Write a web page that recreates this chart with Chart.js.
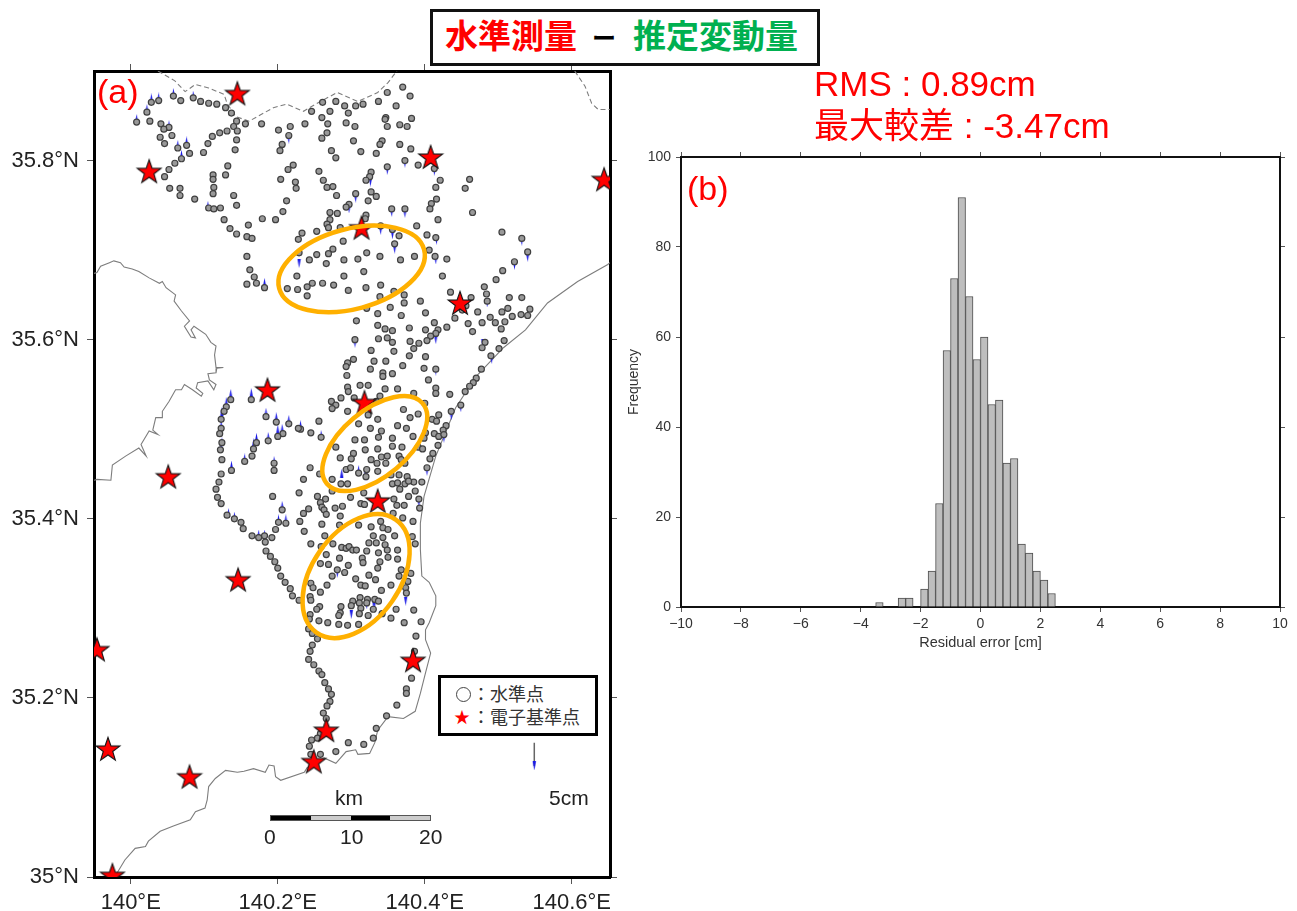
<!DOCTYPE html>
<html lang="ja">
<head>
<meta charset="utf-8">
<title>水準測量 - 推定変動量</title>
<script src="https://cdn.jsdelivr.net/npm/chart.js@4/dist/chart.umd.min.js"></script>
<style>
    html, body { margin: 0; padding: 0; background: #fff; }
    body { position: relative; width: 1297px; height: 911px; overflow: hidden; font-family: 'Liberation Sans', 'Noto Sans CJK JP', sans-serif; }
    canvas { position: absolute; display: block; }
    #mapChart { left: 0; top: 0; }
    #histChart { left: 620px; top: 130px; }
    .txt { position: absolute; line-height: 1; white-space: nowrap; color: #222; }
    .red { color: #ff0000; }
    .green { color: #00b050; }
    #titleBox { position: absolute; left: 430px; top: 9px; width: 384px; height: 51px; border: 3px solid #111; background: #fff; }
    #titleBox span { position: absolute; top: 7px; font-size: 33px; line-height: 1.1; font-weight: 700; white-space: nowrap; }
    #legendBox { position: absolute; left: 438px; top: 675px; width: 154px; height: 55px; border: 3px solid #000; background: #fff; }
    #legendBox span { position: absolute; font-size: 18px; line-height: 1; color: #333; white-space: nowrap; }
    #legendCircle { position: absolute; left: 15px; top: 9px; width: 13px; height: 13px; border: 1.5px solid #444; border-radius: 50%; }
    #scaleBar { position: absolute; left: 270px; top: 815px; width: 161px; height: 6px; border: 1px solid #555; display: flex; background: #ccc; box-sizing: border-box; }
    #scaleBar div { width: 25%; }
    #scaleBar .dark { background: #000; }
</style>
</head>
<body>
<canvas id="mapChart" width="625" height="911"></canvas>
<canvas id="histChart" width="677" height="530"></canvas>

<div id="titleBox">
    <span class="red" style="left:12px">水準測量</span>
    <span style="left:159px;top:14px;font-size:24px;color:#000">ー</span>
    <span class="green" style="left:200px">推定変動量</span>
</div>
<div class="txt red" style="left:814px;top:66px;font-size:35px">RMS : 0.89cm</div>
<div class="txt red" style="left:814px;top:108px;font-size:35px">最大較差 : -3.47cm</div>
<div class="txt red" style="left:97px;top:74px;font-size:34px">(a)</div>
<div class="txt red" style="left:687px;top:171px;font-size:34px">(b)</div>

<div id="legendBox">
    <div id="legendCircle"></div>
    <span style="left:31px;top:8px">：水準点</span>
    <span style="left:13px;top:32px;font-size:16px;color:#ff0000">★</span>
    <span style="left:31px;top:31px">：電子基準点</span>
</div>

<div class="txt" style="left:335px;top:787px;font-size:21px">km</div>
<div id="scaleBar"><div class="dark"></div><div></div><div class="dark"></div><div></div></div>
<div class="txt" style="left:264px;top:826px;font-size:21px">0</div>
<div class="txt" style="left:340px;top:826px;font-size:21px">10</div>
<div class="txt" style="left:419px;top:826px;font-size:21px">20</div>
<div class="txt" style="left:549px;top:787px;font-size:21px">5cm</div>

<script>
// histogram of residuals, 0.25 cm bins, value = bin centre
const binCenters = [-3.375, -2.625, -2.375, -1.875, -1.625, -1.375, -1.125, -0.875, -0.625, -0.375, -0.125, 0.125, 0.375, 0.625, 0.875, 1.125, 1.375, 1.625, 1.875, 2.125, 2.375];
const binCounts = [1, 2, 2, 4, 8, 23, 57, 73, 91, 69, 55, 60, 45, 46, 32, 33, 14, 12, 8, 6, 3];

// GNSS stations [lon, lat]
const gnssStations = [
    [140.145, 35.875], [140.025, 35.788], [140.408, 35.804], [140.644, 35.779], [140.314, 35.725], [140.448, 35.641],
    [140.186, 35.544], [140.318, 35.530], [140.051, 35.447], [140.336, 35.420], [140.146, 35.332], [139.954, 35.254],
    [140.384, 35.242], [140.266, 35.164], [139.969, 35.143], [140.249, 35.129], [140.080, 35.112], [139.975, 35.002]
];

// leveling benchmarks [lon, lat]
const levelingPoints = [
    [140.370,35.882],[140.349,35.876],[140.380,35.872],[140.028,35.865],[140.038,35.867],[140.058,35.872],[140.068,35.867],[140.085,35.870],[140.095,35.866],[140.106,35.864],
    [140.117,35.863],[140.129,35.859],[140.137,35.853],[140.261,35.865],[140.279,35.866],[140.291,35.861],[140.306,35.861],[140.316,35.863],[140.337,35.866],[140.361,35.861],
    [140.246,35.855],[140.271,35.855],[140.296,35.853],[140.022,35.854],[140.008,35.843],[140.026,35.844],[140.144,35.844],[140.156,35.841],[140.178,35.841],[140.237,35.841],
    [140.260,35.848],[140.268,35.841],[140.293,35.842],[140.305,35.838],[140.347,35.848],[140.346,35.846],[140.349,35.838],[140.366,35.840],[140.376,35.838],[140.382,35.847],
    [140.041,35.841],[140.052,35.837],[140.045,35.835],[140.056,35.828],[140.040,35.826],[140.046,35.819],[140.064,35.814],[140.076,35.817],[140.080,35.808],[140.069,35.802],
    [140.060,35.797],[140.052,35.790],[140.046,35.782],[140.140,35.838],[140.145,35.833],[140.131,35.833],[140.121,35.831],[140.111,35.827],[140.105,35.819],[140.099,35.809],
    [140.144,35.823],[140.142,35.812],[140.201,35.834],[140.217,35.838],[140.215,35.828],[140.206,35.818],[140.203,35.811],[140.267,35.831],[140.260,35.825],[140.303,35.822],
    [140.342,35.822],[140.339,35.818],[140.366,35.818],[140.381,35.813],[140.273,35.811],[140.279,35.803],[140.313,35.810],[140.334,35.808],[140.373,35.800],[140.391,35.795],
    [140.413,35.791],[140.349,35.793],[140.221,35.795],[140.214,35.790],[140.132,35.794],[140.129,35.784],[140.112,35.784],[140.112,35.779],[140.113,35.770],[140.112,35.763],
    [140.053,35.769],[140.067,35.769],[140.067,35.761],[140.087,35.757],[140.204,35.779],[140.224,35.776],[140.225,35.769],[140.256,35.788],[140.262,35.778],[140.267,35.770],
    [140.275,35.771],[140.280,35.761],[140.327,35.787],[140.325,35.782],[140.320,35.778],[140.421,35.778],[140.461,35.779],[140.455,35.769],[140.415,35.770],[140.140,35.761],
    [140.144,35.750],[140.106,35.747],[140.113,35.746],[140.122,35.747],[140.127,35.734],[140.135,35.724],[140.144,35.718],[140.158,35.715],[140.165,35.713],[140.160,35.728],
    [140.212,35.755],[140.207,35.743],[140.179,35.735],[140.197,35.734],[140.306,35.763],[140.327,35.765],[140.334,35.760],[140.323,35.755],[140.297,35.751],[140.293,35.748],
    [140.416,35.757],[140.409,35.752],[140.407,35.746],[140.355,35.746],[140.373,35.746],[140.465,35.742],[140.271,35.742],[140.281,35.741],[140.320,35.739],[140.319,35.735],
    [140.271,35.734],[140.267,35.729],[140.269,35.725],[140.285,35.725],[140.418,35.734],[140.389,35.727],[140.253,35.721],[140.233,35.719],[140.228,35.712],[140.340,35.727],
    [140.356,35.723],[140.365,35.716],[140.403,35.717],[140.415,35.714],[140.505,35.720],[140.532,35.713],[140.540,35.698],[140.289,35.710],[140.359,35.707],[140.275,35.701],
    [140.269,35.696],[140.253,35.695],[140.243,35.689],[140.266,35.685],[140.229,35.697],[140.290,35.689],[140.309,35.690],[140.321,35.697],[140.339,35.693],[140.367,35.689],
    [140.386,35.693],[140.406,35.700],[140.414,35.693],[140.430,35.690],[140.522,35.687],[140.506,35.677],[140.497,35.667],[140.481,35.659],[140.484,35.651],[140.485,35.643],
    [140.158,35.693],[140.162,35.678],[140.168,35.670],[140.158,35.662],[140.171,35.663],[140.182,35.658],[140.226,35.671],[140.290,35.671],[140.317,35.676],[140.424,35.671],
    [140.247,35.663],[140.240,35.659],[140.261,35.663],[140.276,35.661],[140.213,35.657],[140.227,35.656],[140.240,35.649],[140.296,35.655],[140.320,35.658],[140.340,35.661],
    [140.358,35.654],[140.339,35.648],[140.372,35.650],[140.372,35.641],[140.394,35.643],[140.435,35.653],[140.463,35.647],[140.515,35.647],[140.532,35.647],[140.456,35.638],
    [140.451,35.633],[140.353,35.636],[140.321,35.635],[140.336,35.629],[140.368,35.627],[140.401,35.630],[140.307,35.621],[140.441,35.624],[140.472,35.631],[140.459,35.618],
    [140.478,35.619],[140.489,35.625],[140.496,35.619],[140.505,35.631],[140.513,35.635],[140.509,35.620],[140.519,35.626],[140.531,35.628],[140.540,35.627],[140.543,35.634],
    [140.504,35.612],[140.465,35.609],[140.336,35.616],[140.346,35.612],[140.356,35.610],[140.379,35.613],[140.401,35.611],[140.413,35.619],[140.418,35.611],[140.430,35.614],
    [140.415,35.607],[140.408,35.604],[140.305,35.600],[140.337,35.601],[140.349,35.602],[140.356,35.597],[140.380,35.598],[140.392,35.596],[140.403,35.599],[140.482,35.597],
    [140.478,35.591],[140.508,35.599],[140.501,35.590],[140.490,35.582],[140.477,35.567],[140.327,35.588],[140.358,35.587],[140.385,35.590],[140.379,35.582],[140.401,35.581],
    [140.303,35.578],[140.295,35.574],[140.293,35.570],[140.331,35.576],[140.347,35.576],[140.370,35.571],[140.399,35.568],[140.415,35.567],[140.294,35.560],[140.326,35.567],
    [140.343,35.563],[140.343,35.559],[140.356,35.562],[140.405,35.555],[140.470,35.557],[140.466,35.552],[140.461,35.548],[140.455,35.542],[140.449,35.527],[140.436,35.520],
    [140.434,35.539],[140.415,35.546],[140.415,35.540],[140.295,35.547],[140.296,35.542],[140.312,35.549],[140.323,35.549],[140.346,35.545],[140.363,35.545],[140.385,35.540],
    [140.304,35.535],[140.339,35.537],[140.334,35.531],[140.273,35.531],[140.286,35.535],[140.279,35.527],[140.274,35.523],[140.295,35.520],[140.400,35.529],[140.371,35.522],
    [140.380,35.513],[140.391,35.517],[140.419,35.516],[140.410,35.511],[140.416,35.509],[140.336,35.511],[140.323,35.516],[140.310,35.506],[140.326,35.501],[140.341,35.498],
    [140.363,35.504],[140.375,35.501],[140.429,35.504],[140.425,35.499],[140.413,35.495],[140.419,35.492],[140.426,35.494],[140.401,35.496],[140.399,35.490],[140.256,35.509],
    [140.231,35.500],[140.228,35.501],[140.215,35.506],[140.198,35.508],[140.184,35.514],[140.207,35.495],[140.200,35.492],[140.187,35.487],[140.245,35.496],[140.259,35.491],
    [140.136,35.533],[140.164,35.533],[140.130,35.525],[140.127,35.520],[140.123,35.511],[140.123,35.501],[140.121,35.495],[140.124,35.485],[140.122,35.477],[140.124,35.466],
    [140.171,35.485],[140.167,35.478],[140.165,35.470],[140.155,35.464],[140.305,35.488],[140.318,35.488],[140.337,35.491],[140.356,35.490],[140.384,35.492],[140.279,35.480],
    [140.319,35.477],[140.336,35.478],[140.356,35.481],[140.369,35.480],[140.391,35.480],[140.397,35.478],[140.418,35.482],[140.411,35.473],[140.407,35.467],[140.403,35.457],
    [140.303,35.473],[140.285,35.468],[140.300,35.467],[140.341,35.469],[140.349,35.470],[140.365,35.470],[140.327,35.466],[140.335,35.462],[140.347,35.462],[140.368,35.466],
    [140.373,35.462],[140.195,35.462],[140.195,35.454],[140.137,35.454],[140.123,35.450],[140.120,35.441],[140.116,35.433],[140.118,35.424],[140.123,35.417],[140.131,35.404],
    [140.141,35.400],[140.150,35.396],[140.153,35.389],[140.165,35.381],[140.174,35.379],[140.182,35.381],[140.183,35.374],[140.192,35.379],[140.197,35.388],[140.201,35.396],
    [140.211,35.395],[140.206,35.410],[140.193,35.425],[140.244,35.457],[140.235,35.444],[140.257,35.450],[140.274,35.444],[140.286,35.439],[140.295,35.439],[140.293,35.455],
    [140.299,35.457],[140.310,35.451],[140.321,35.455],[140.336,35.453],[140.320,35.447],[140.354,35.449],[140.365,35.449],[140.376,35.447],[140.356,35.439],[140.363,35.440],
    [140.373,35.439],[140.385,35.441],[140.396,35.441],[140.378,35.442],[140.366,35.433],[140.387,35.431],[140.378,35.425],[140.358,35.422],[140.362,35.415],[140.372,35.415],
    [140.392,35.422],[140.393,35.412],[140.229,35.429],[140.254,35.425],[140.265,35.422],[140.258,35.418],[140.260,35.413],[140.274,35.431],[140.299,35.424],[140.317,35.429],
    [140.313,35.417],[140.318,35.416],[140.288,35.414],[140.278,35.412],[140.263,35.410],[140.266,35.405],[140.242,35.411],[140.235,35.406],[140.230,35.397],[140.285,35.403],
    [140.357,35.406],[140.370,35.401],[140.384,35.397],[140.310,35.393],[140.284,35.393],[140.260,35.394],[140.236,35.386],[140.340,35.397],[140.327,35.391],[140.343,35.390],
    [140.350,35.388],[140.359,35.381],[140.383,35.380],[140.387,35.372],[140.245,35.372],[140.264,35.381],[140.259,35.369],[140.275,35.372],[140.330,35.381],[140.343,35.379],
    [140.324,35.373],[140.334,35.373],[140.346,35.371],[140.287,35.368],[140.293,35.367],[140.297,35.369],[140.302,35.365],[140.307,35.365],[140.349,35.365],[140.363,35.365],
    [140.321,35.364],[140.337,35.362],[140.284,35.356],[140.266,35.360],[140.315,35.356],[140.316,35.351],[140.339,35.352],[140.350,35.357],[140.363,35.355],[140.336,35.345],
    [140.258,35.350],[140.269,35.349],[140.296,35.348],[140.368,35.343],[140.281,35.343],[140.291,35.340],[140.381,35.339],[140.274,35.336],[140.306,35.333],[140.324,35.337],
    [140.333,35.332],[140.365,35.336],[140.377,35.330],[140.267,35.326],[140.313,35.326],[140.319,35.325],[140.354,35.326],[140.374,35.323],[140.341,35.320],[140.258,35.318],
    [140.245,35.328],[140.248,35.323],[140.244,35.313],[140.245,35.309],[140.375,35.317],[140.312,35.312],[140.322,35.310],[140.332,35.310],[140.302,35.308],[140.311,35.306],
    [140.337,35.308],[140.286,35.302],[140.300,35.303],[140.313,35.300],[140.321,35.306],[140.257,35.302],[140.253,35.299],[140.244,35.293],[140.243,35.288],[140.285,35.295],
    [140.283,35.292],[140.311,35.294],[140.323,35.292],[140.330,35.299],[140.342,35.294],[140.361,35.299],[140.354,35.289],[140.385,35.298],[140.256,35.286],[140.268,35.284],
    [140.283,35.282],[140.295,35.281],[140.310,35.282],[140.372,35.284],[140.395,35.285],[140.184,35.364],[140.190,35.358],[140.196,35.352],[140.200,35.345],[140.204,35.336],
    [140.210,35.329],[140.217,35.322],[140.220,35.314],[140.229,35.309],[140.242,35.277],[140.247,35.272],[140.254,35.266],[140.247,35.259],[140.244,35.252],[140.242,35.243],
    [140.249,35.237],[140.256,35.230],[140.260,35.226],[140.264,35.217],[140.269,35.210],[140.273,35.204],[140.271,35.196],[140.267,35.191],[140.262,35.183],[140.266,35.177],
    [140.258,35.160],[140.254,35.155],[140.246,35.153],[140.243,35.146],[140.245,35.137],[140.258,35.137],[140.279,35.140],[140.296,35.150],[140.317,35.148],[140.330,35.155],
    [140.334,35.166],[140.348,35.180],[140.362,35.192],[140.375,35.210],[140.375,35.205],[140.382,35.222],[140.388,35.269],[140.386,35.252]
];

// blue residual arrows at benchmarks
const arrowsUp = [
    [140.136,35.540],[140.164,35.541],[140.130,35.531],[140.124,35.520],[140.123,35.505],[140.124,35.486],[140.123,35.481],[140.171,35.491],[140.167,35.485],[140.155,35.468],
    [140.137,35.460],[140.184,35.519],[140.198,35.514],[140.215,35.511],[140.231,35.505],[140.200,35.500],[140.206,35.501],[140.187,35.492],[140.259,35.494],[140.195,35.465],
    [140.206,35.415],[140.211,35.400],[140.201,35.400],[140.182,35.383],[140.174,35.383],[140.133,35.407],[140.141,35.403],[140.287,35.451],[140.310,35.455],[140.028,35.870],
    [140.038,35.871],[140.058,35.876],[140.085,35.873],[140.022,35.858],[140.008,35.847],[140.052,35.840],[140.064,35.818],[140.076,35.822],[140.105,35.750],[140.069,35.807],[140.182,35.664]
];
const arrowsDown = [
    [140.229,35.685],[140.359,35.701],[140.485,35.641],[140.215,35.824],[140.540,35.692],[140.532,35.710],[140.522,35.683],[140.373,35.797],[140.413,35.788],[140.349,35.789],
    [140.306,35.758],[140.373,35.741],[140.297,35.746],[140.415,35.689],[140.416,35.711],[140.355,35.742],[140.326,35.776],[140.340,35.722],[140.356,35.717],[140.374,35.308],
    [140.300,35.293],[140.331,35.302],[140.321,35.304],[140.281,35.339],[140.348,35.366],[140.449,35.524],[140.426,35.490],[140.479,35.596],[140.415,35.600],[140.305,35.596],
    [140.491,35.578],[140.320,35.447],[140.392,35.418],[140.436,35.515],[140.415,35.565],[140.403,35.453]
];

// coastlines and prefecture borders [lon, lat]
const bayCoast = [
    [139.950,35.674],[139.954,35.675],[139.959,35.682],[139.971,35.686],[139.977,35.688],[139.986,35.686],[139.991,35.681],[140.002,35.679],[140.011,35.676],[140.025,35.669],
    [140.039,35.663],[140.043,35.665],[140.048,35.658],[140.061,35.650],[140.059,35.643],[140.069,35.632],[140.080,35.621],[140.073,35.615],[140.082,35.603],[140.088,35.602],
    [140.082,35.611],[140.086,35.615],[140.102,35.606],[140.109,35.597],[140.116,35.593],[140.114,35.583],[140.116,35.569],[140.126,35.569],[140.117,35.568],[140.116,35.563],
    [140.105,35.562],[140.107,35.555],[140.116,35.550],[140.113,35.544],[140.105,35.554],[140.091,35.552],[140.089,35.546],[140.098,35.540],[140.096,35.537],[140.084,35.544],
    [140.073,35.550],[140.069,35.544],[140.061,35.544],[140.052,35.531],[140.043,35.520],[140.043,35.513],[140.034,35.513],[140.030,35.499],[140.037,35.494],[140.025,35.498],
    [140.014,35.483],[140.021,35.470],[140.011,35.479],[139.993,35.470],[139.975,35.460],[139.973,35.443],[139.954,35.444],[139.950,35.443]
];
const eastCoast = [
    [140.652,35.686],[140.649,35.684],[140.608,35.665],[140.567,35.641],[140.537,35.611],[140.507,35.591],[140.470,35.559],[140.442,35.524],[140.415,35.470],[140.399,35.425],
    [140.394,35.395],[140.394,35.366],[140.396,35.336],[140.406,35.329],[140.415,35.314],[140.415,35.303],[140.406,35.284],[140.401,35.276],[140.401,35.265],[140.408,35.250],
    [140.401,35.228],[140.394,35.205],[140.387,35.185],[140.371,35.177],[140.350,35.179],[140.336,35.164],[140.332,35.150],[140.325,35.138],[140.309,35.137],[140.306,35.142],
    [140.293,35.140],[140.279,35.127],[140.263,35.133],[140.240,35.122],[140.236,35.117],[140.204,35.108],[140.197,35.112],[140.195,35.124],[140.188,35.125],[140.183,35.117],
    [140.167,35.121],[140.154,35.118],[140.145,35.117],[140.129,35.119],[140.115,35.110],[140.106,35.101],[140.104,35.086],[140.101,35.077],[140.088,35.073],[140.081,35.064],
    [140.058,35.057],[140.040,35.051],[140.024,35.040],[140.020,35.034],[140.006,35.032],[139.992,35.019],[139.981,35.004],[139.979,35.002]
];
const prefBorder = [
    [140.037,35.900],[140.060,35.889],[140.074,35.877],[140.088,35.885],[140.106,35.881],[140.127,35.874],[140.131,35.864],[140.143,35.849],[140.161,35.844],[140.194,35.859],
    [140.212,35.863],[140.235,35.855],[140.258,35.866],[140.281,35.876],[140.309,35.866],[140.336,35.876],[140.350,35.887],[140.362,35.900]
];
const cornerBorder = [[140.604,35.900],[140.618,35.883],[140.627,35.864],[140.636,35.857],[140.652,35.857]];

// orange ellipses around the study areas: centre lon/lat
const ellipseCenters = [[140.3005, 35.679], [140.332, 35.484], [140.3066, 35.336]];
const ellipseSizes = [[75, 40, -15], [62.5, 33, -40], [69, 44, -55]];

// 5 cm reference arrow
const refArrow = [[140.549, 35.150], [140.549, 35.124]];

const lonTicksStep = 0.2;
const latTicksStep = 0.2;

Chart.defaults.animation = false;
Chart.defaults.font.family = "'Liberation Sans', sans-serif";

const toXY = list => list.map(p => ({ x: p[0], y: p[1] }));

const makeStar = () => {
    const c = document.createElement('canvas');
    c.width = 28;
    c.height = 28;
    const g = c.getContext('2d');
    g.beginPath();
    for (let i = 0; i < 10; i++) {
        const r = i % 2 === 0 ? 12.5 : 5;
        const a = -Math.PI / 2 + i * Math.PI / 5;
        g.lineTo(14 + r * Math.cos(a), 15 + r * Math.sin(a));
    }
    g.closePath();
    g.fillStyle = '#ff0000';
    g.fill();
    g.lineWidth = 1.1;
    g.strokeStyle = '#111';
    g.stroke();
    return c;
};

const makeArrow = (up) => {
    const c = document.createElement('canvas');
    c.width = 5;
    c.height = 9;
    const g = c.getContext('2d');
    g.beginPath();
    g.moveTo(2.5, up ? 0 : 9);
    g.lineTo(4.2, up ? 9 : 0);
    g.lineTo(0.8, up ? 9 : 0);
    g.closePath();
    g.fillStyle = '#1a1ae6';
    g.fill();
    return c;
};

const ellipsePlugin = {
    id: 'studyEllipses',
    afterDatasetsDraw(chart) {
        const { ctx, scales: { x, y } } = chart;
        ctx.save();
        ctx.strokeStyle = '#ffb000';
        ctx.lineWidth = 4.5;
        ellipseCenters.forEach((c, i) => {
            const s = ellipseSizes[i];
            ctx.beginPath();
            ctx.ellipse(x.getPixelForValue(c[0]), y.getPixelForValue(c[1]), s[0], s[1], s[2] * Math.PI / 180, 0, Math.PI * 2);
            ctx.stroke();
        });
        ctx.restore();
    }
};

const lineSet = (list, dash, order) => ({
    data: toXY(list),
    showLine: true,
    pointRadius: 0,
    borderColor: '#7d7d7d',
    borderWidth: 1.1,
    borderDash: dash,
    order: order
});

const mapAxisLabels = (suffix) => (value) => +value.toFixed(1) + suffix;

const frameAxis = (extra, tickLen, frameWidth, frameColor) => Object.assign({
    type: 'linear',
    border: { display: true, color: frameColor, width: frameWidth },
    grid: { offset: false, drawOnChartArea: false, drawTicks: true, tickLength: tickLen, tickColor: '#555', tickWidth: 1 }
}, extra);

new Chart(document.getElementById('mapChart'), {
    type: 'scatter',
    data: {
        datasets: [
            lineSet(bayCoast, [], 6),
            lineSet(eastCoast, [], 6),
            lineSet(prefBorder, [5, 3], 6),
            lineSet(cornerBorder, [5, 3], 6),
            { data: toXY(arrowsUp), pointStyle: makeArrow(true), pointRadius: 4, order: 4 },
            { data: toXY(arrowsDown), pointStyle: makeArrow(false), pointRadius: 4, order: 4 },
            {
                data: toXY(levelingPoints),
                pointRadius: 3,
                pointBackgroundColor: '#999999',
                pointBorderColor: '#404040',
                pointBorderWidth: 1.2,
                order: 3
            },
            { data: toXY(gnssStations), pointStyle: makeStar(), pointRadius: 12, order: 1 },
            {
                data: toXY(refArrow.slice(0, 2)),
                showLine: true,
                borderColor: '#666',
                borderWidth: 1.5,
                pointRadius: 0,
                order: 5
            },
            { data: toXY(refArrow.slice(1)), pointStyle: makeArrow(false), pointRadius: 4, order: 2 }
        ]
    },
    options: {
        responsive: false,
        plugins: { legend: { display: false }, tooltip: { enabled: false } },
        layout: { padding: 0 },
        scales: {
            x: frameAxis({
                position: 'bottom', min: 139.95, max: 140.652,
                ticks: { stepSize: lonTicksStep, includeBounds: false, maxRotation: 0, padding: 6, color: '#222', font: { size: 22 }, callback: mapAxisLabels('°E') },
                afterFit: s => { s.height = 34; }
            }, 7, 3, '#000'),
            x2: frameAxis({
                axis: 'x', position: 'top', min: 139.95, max: 140.652,
                ticks: { display: false, stepSize: lonTicksStep, includeBounds: false },
                afterFit: s => { s.height = 71; }
            }, 7, 3, '#000'),
            y: frameAxis({
                position: 'left', min: 35.0, max: 35.9,
                ticks: { stepSize: latTicksStep, includeBounds: false, padding: 8, color: '#222', font: { size: 22 }, callback: mapAxisLabels('°N') },
                afterFit: s => { s.width = 94; }
            }, 7, 3, '#000'),
            y2: frameAxis({
                axis: 'y', position: 'right', min: 35.0, max: 35.9,
                ticks: { display: false, stepSize: latTicksStep, includeBounds: false },
                afterFit: s => { s.width = 15; }
            }, 7, 3, '#000')
        }
    },
    plugins: [ellipsePlugin]
});

new Chart(document.getElementById('histChart'), {
    type: 'bar',
    data: {
        datasets: [{
            data: binCenters.map((c, i) => ({ x: c, y: binCounts[i] })),
            backgroundColor: '#bebebe',
            borderColor: '#4d4d4d',
            borderWidth: 1,
            barPercentage: 1,
            categoryPercentage: 1
        }]
    },
    options: {
        responsive: false,
        plugins: { legend: { display: false }, tooltip: { enabled: false } },
        layout: { padding: 0 },
        scales: {
            x: frameAxis({
                position: 'bottom', offset: false, min: -10, max: 10,
                ticks: { stepSize: 2, maxRotation: 0, padding: 4, color: '#333', font: { size: 14 }, callback: v => String(v).replace('-', '\u2212') },
                title: { display: true, text: 'Residual error [cm]', color: '#333', font: { size: 14.5 }, padding: { top: 0, bottom: 8 } },
                afterFit: s => { s.height = 53; }
            }, 5, 2, '#111'),
            x2: frameAxis({
                axis: 'x', position: 'top', offset: false, min: -10, max: 10,
                ticks: { display: false, stepSize: 2 },
                afterFit: s => { s.height = 27; }
            }, 5, 2, '#111'),
            y: frameAxis({
                position: 'left', min: 0, max: 100,
                ticks: { stepSize: 20, padding: 5, color: '#333', font: { size: 14 } },
                title: { display: true, text: 'Frequency', color: '#333', font: { size: 14 }, padding: { top: 6, bottom: 0 } },
                afterFit: s => { s.width = 61; }
            }, 5, 2, '#111'),
            y2: frameAxis({
                axis: 'y', position: 'right', min: 0, max: 100,
                ticks: { display: false, stepSize: 20 },
                afterFit: s => { s.width = 17; }
            }, 5, 2, '#111')
        }
    }
});
</script>
</body>
</html>
